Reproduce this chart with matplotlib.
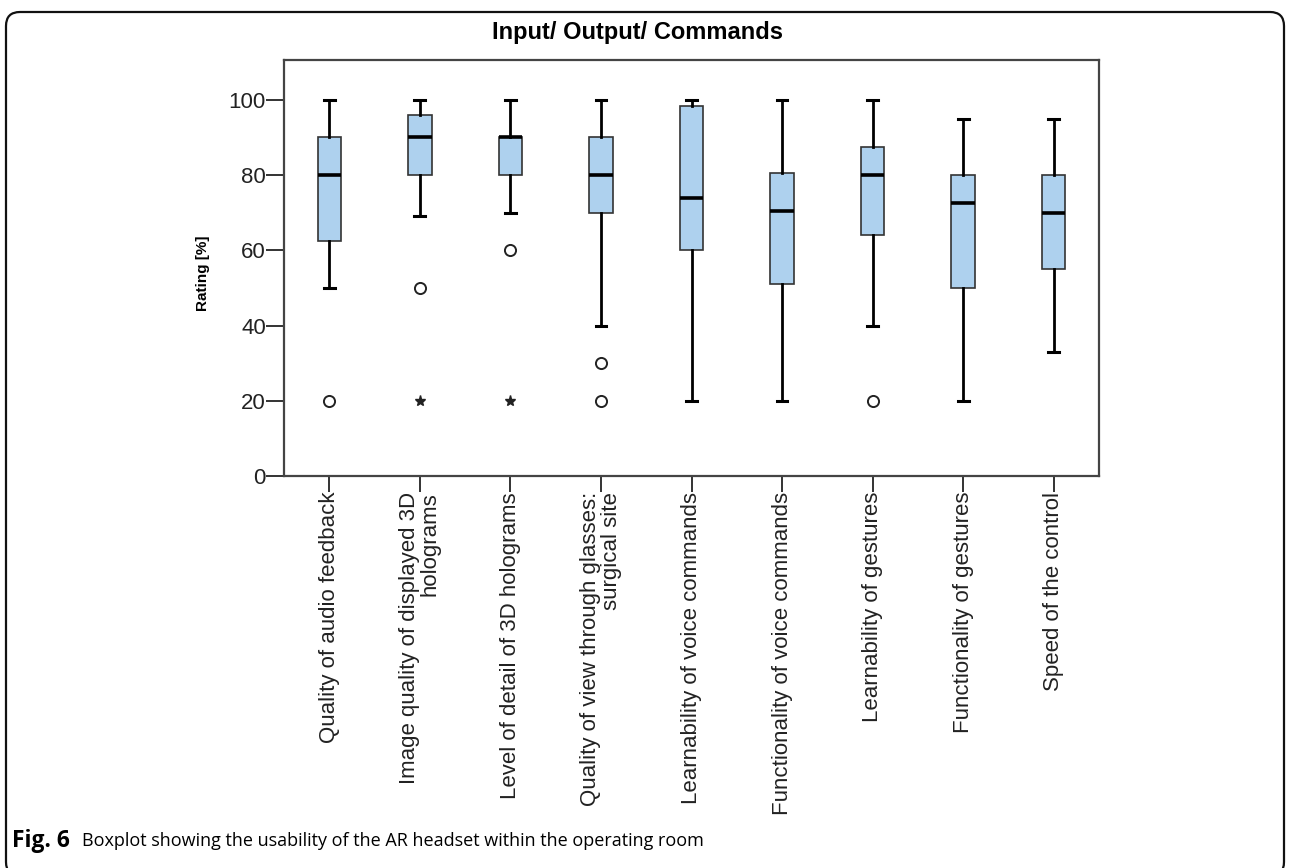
import matplotlib
matplotlib.use("Agg")
import matplotlib.pyplot as plt
from matplotlib.patches import FancyBboxPatch

categories = [
    "Quality of audio feedback",
    "Image quality of displayed 3D\nholograms",
    "Level of detail of 3D holograms",
    "Quality of view through glasses:\nsurgical site",
    "Learnability of voice commands",
    "Functionality of voice commands",
    "Learnability of gestures",
    "Functionality of gestures",
    "Speed of the control",
]
whis_low = [50, 69, 70, 40, 20, 20, 40, 20, 33]
q1 = [62.5, 80, 80, 70, 60, 51, 64, 50, 55]
median = [80, 90, 90, 80, 74, 70.5, 80, 72.5, 70]
q3 = [90, 96, 90, 90, 98.5, 80.5, 87.5, 80, 80]
whis_high = [100, 100, 100, 100, 100, 100, 100, 95, 95]
outliers = [[20], [50], [60], [30, 20], [], [], [20], [], []]
extremes = [[], [20], [20], [], [], [], [], [], []]
yticks = [0, 20, 40, 60, 80, 100]

W, H = 1290, 868
fig = plt.figure(figsize=(W / 100, H / 100), dpi=100)
ax = fig.add_axes([284 / W, 1 - 476 / H, (1099 - 284) / W, (476 - 60) / H])

stats = []
for i in range(len(categories)):
    stats.append(dict(med=median[i], q1=q1[i], q3=q3[i],
                      whislo=whis_low[i], whishi=whis_high[i],
                      fliers=outliers[i], label=categories[i]))

pos = list(range(1, len(categories) + 1))
ax.bxp(stats, positions=pos, widths=0.26, capwidths=0.12, patch_artist=True,
       boxprops=dict(facecolor="#aed1ee", edgecolor="#333333", linewidth=1.2),
       medianprops=dict(color="black", linewidth=2.6),
       whiskerprops=dict(color="black", linewidth=2.0),
       capprops=dict(color="black", linewidth=2.2),
       flierprops=dict(marker="o", markersize=8, markerfacecolor="white",
                       markeredgecolor="#222222", markeredgewidth=1.4,
                       linestyle="none"))
for p, ex in zip(pos, extremes):
    if ex:
        ax.plot([p] * len(ex), ex, linestyle="none", marker="*", markersize=8,
                color="#222222")

ax.set_xlim(0.5, 9.5)
ax.set_ylim(0, 110.6)
ax.set_yticks(yticks)
ax.set_yticklabels([str(v) for v in yticks], fontsize=16, family="Liberation Sans",
                   color="#222222")
ax.set_xticks(pos)
ax.set_xticklabels(categories, rotation=90, fontsize=16, family="Liberation Sans",
                   color="#222222", multialignment="right", linespacing=1.0)
ax.tick_params(axis="y", length=13, width=1.4, pad=0, color="#333333")
ax.tick_params(axis="x", length=11.5, width=1.4, pad=0, color="#333333")
for s in ax.spines.values():
    s.set_color("#444444")
    s.set_linewidth(1.6)

fig.text(638 / W, 1 - 33 / H, "Input/ Output/ Commands", ha="center", va="center",
         fontsize=17, fontweight="bold", family="Liberation Sans")
fig.text(203 / W, 1 - 273 / H, "Rating [%]", ha="center", va="center", rotation=90,
         fontsize=11, fontweight="bold", family="Liberation Sans")

fig.text(12 / W, 1 - 841 / H, "Fig. 6", ha="left", va="center", fontsize=16.5,
         fontweight="bold", family="Open Sans")
fig.text(82 / W, 1 - 841 / H, "Boxplot showing the usability of the AR headset within the operating room",
         ha="left", va="center", fontsize=13, family="Open Sans")

border = FancyBboxPatch((6, -8), W - 12, H - 6 + 8 - 6,
                        boxstyle="round,pad=0,rounding_size=14",
                        transform=None, facecolor="none", edgecolor="#111111",
                        linewidth=1.6, clip_on=False)
fig.patches.append(border)

fig.savefig("out.png", dpi=100)
